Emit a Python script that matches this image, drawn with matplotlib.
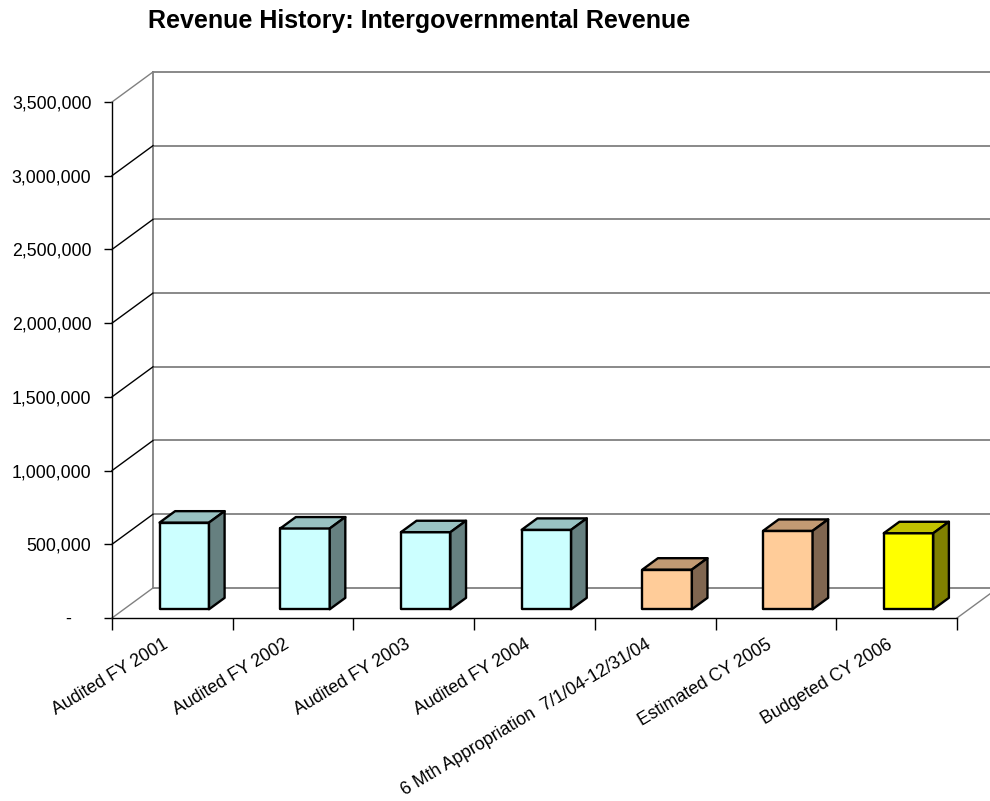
import numpy as np
import matplotlib.pyplot as plt
from matplotlib.patches import Polygon

plt.rcParams['font.family'] = ['Liberation Sans', 'DejaVu Sans']

categories = ['Audited FY 2001', 'Audited FY 2002', 'Audited FY 2003', 'Audited FY 2004',
              '6 Mth Appropriation  7/1/04-12/31/04', 'Estimated CY 2005', 'Budgeted CY 2006']
revenue = [588000, 548000, 523000, 539000, 269000, 532000, 516000]
yticks = [0, 500000, 1000000, 1500000, 2000000, 2500000, 3000000, 3500000]
ytick_labels = ['-    ', '500,000', '1,000,000', '1,500,000', '2,000,000', '2,500,000', '3,000,000', '3,500,000']

# front / top / side shades for each bar
front_col = ['#CCFFFF'] * 4 + ['#FFCC99'] * 2 + ['#FFFF00']
top_col = ['#99C2C2'] * 4 + ['#C29A73'] * 2 + ['#C2C200']
side_col = ['#668080'] * 4 + ['#806650'] * 2 + ['#808000']

# oblique depth offset of the floor (in data units)
DX = 0.34
DY = 204000
ymax = 3500000

fig = plt.figure(figsize=(9.9, 8.01), dpi=100)
ax = fig.add_axes([112 / 990, 1 - 618 / 801, 845 / 990, 516 / 801])
ax.set_xlim(0, len(categories))
ax.set_ylim(0, ymax)

gray = '#808080'
# back wall
ax.plot([DX, DX], [DY, ymax + DY], color=gray, lw=1.3, clip_on=False)
for v in yticks:
    ax.plot([DX, len(categories) + DX], [v + DY, v + DY], color=gray, lw=1.3, clip_on=False)
# side wall
for v in yticks:
    c = gray if v in (0, ymax) else 'black'
    ax.plot([0, DX], [v, v + DY], color=c, lw=1.0, clip_on=False)
ax.plot([len(categories), len(categories) + DX], [0, DY], color=gray, lw=1.0, clip_on=False)

# bars
w = 0.41
d0, d1 = 0.29, 0.67
for i, v in enumerate(revenue):
    x0 = i + 0.5 - w / 2 + d0 * DX
    x1 = x0 + w
    b0 = d0 * DY
    ox = (d1 - d0) * DX
    oy = (d1 - d0) * DY
    front = [(x0, b0), (x1, b0), (x1, b0 + v), (x0, b0 + v)]
    top = [(x0, b0 + v), (x1, b0 + v), (x1 + ox, b0 + v + oy), (x0 + ox, b0 + v + oy)]
    side = [(x1, b0), (x1 + ox, b0 + oy), (x1 + ox, b0 + v + oy), (x1, b0 + v)]
    for pts, col in ((front, front_col[i]), (top, top_col[i]), (side, side_col[i])):
        ax.add_patch(Polygon(pts, closed=True, facecolor=col, edgecolor='black',
                             lw=1.7, joinstyle='round', clip_on=False, zorder=3))

for s in ('top', 'right'):
    ax.spines[s].set_visible(False)
ax.spines['left'].set_linewidth(1.0)
ax.spines['bottom'].set_linewidth(1.0)

ax.set_yticks(yticks)
ax.set_yticklabels(ytick_labels, fontsize=12.8)
ax.tick_params(axis='y', length=5.8, width=1.0, pad=9)
ax.set_xticks(np.arange(len(categories) + 1))
ax.set_xticklabels([])
ax.tick_params(axis='x', length=8.6, width=1.0)

for i, lab in enumerate(categories):
    ax.annotate(lab, xy=(i + 0.5, 0), xytext=(-7, -13), textcoords='offset points',
                rotation=31, ha='right', va='top', rotation_mode='anchor', fontsize=12.8)

fig.text(419 / 990, 1 - 28 / 801, 'Revenue History: Intergovernmental Revenue',
         ha='center', va='baseline', fontsize=18, fontweight='bold')

fig.savefig('out.png', dpi=100)
